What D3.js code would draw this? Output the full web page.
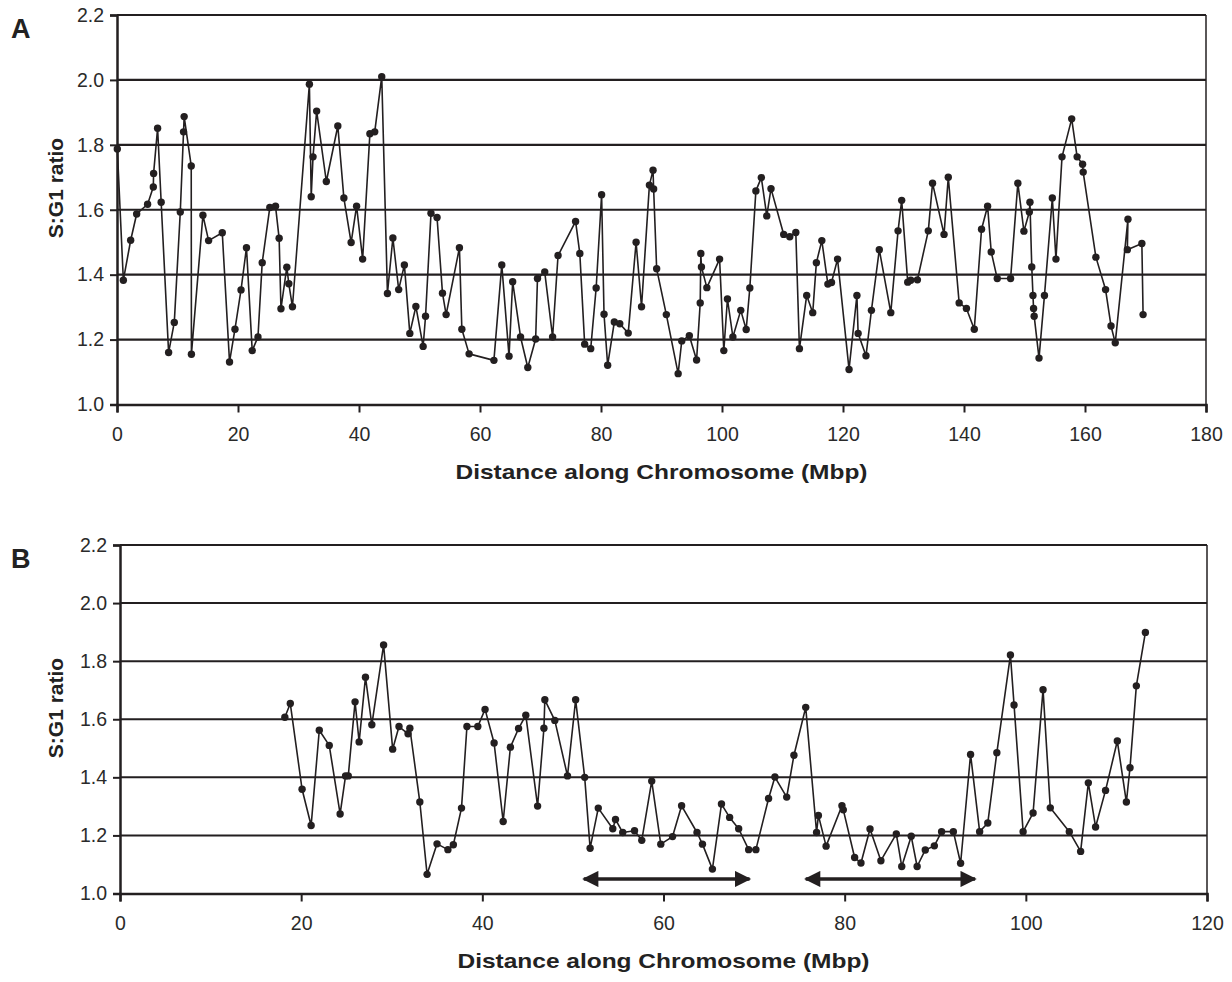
<!DOCTYPE html>
<html>
<head>
<meta charset="utf-8">
<script src="https://cdn.jsdelivr.net/npm/d3@7"></script>
<style>
  html, body { margin: 0; padding: 0; background: #fff; }
  svg { display: block; font-family: "Liberation Sans", Arial, sans-serif; }
</style>
</head>
<body>
<svg id="chart" width="1232" height="982"></svg>
<script>
// Panel A: whole chromosome, position (Mbp) and S:G1 ratio
const posA = [0.05,1.05,2.26,3.25,5.06,6.0,6.05,6.71,7.3,8.53,9.47,10.46,11.0,11.1,12.27,12.3,14.2,15.14,17.4,18.6,
  19.5,20.5,21.4,22.35,23.3,24.0,25.26,26.2,26.8,27.1,28.07,28.4,29.0,31.8,32.1,32.4,33.0,34.6,36.5,37.5,
  38.7,39.6,40.6,41.8,42.6,43.76,44.7,45.6,46.56,47.5,48.4,49.4,50.6,51.0,51.9,52.9,53.8,54.4,56.6,57.0,
  58.2,62.3,63.6,64.8,65.4,66.7,67.9,69.2,69.5,70.7,72.0,72.9,75.8,76.5,77.3,78.3,79.2,80.1,80.5,81.1,
  82.2,83.1,84.5,85.8,86.7,88.0,88.6,88.7,89.2,90.8,92.75,93.35,94.6,95.8,96.4,96.5,96.6,97.5,99.6,100.3,
  100.9,101.8,103.1,104.0,104.6,105.6,106.5,107.4,108.1,110.2,111.2,112.2,112.8,114.0,115.0,115.6,116.5,117.5,118.1,119.1,
  121.0,122.3,122.5,123.8,124.7,126.0,127.9,129.1,129.7,130.7,131.2,132.3,134.1,134.8,136.7,137.4,139.2,140.4,141.7,142.9,
  143.9,144.5,145.5,147.7,148.9,149.9,150.8,150.9,151.2,151.4,151.5,151.6,152.4,153.3,154.6,155.2,156.2,157.8,158.7,159.6,
  159.7,161.8,163.4,164.3,165.0,167.1,167.0,169.4,169.6];
const ratioA = [1.787,1.383,1.506,1.587,1.617,1.670,1.712,1.851,1.623,1.160,1.253,1.593,1.840,1.887,1.735,1.155,1.583,1.505,1.529,1.131,
  1.232,1.353,1.483,1.166,1.208,1.437,1.607,1.611,1.512,1.295,1.423,1.372,1.301,1.987,1.640,1.763,1.904,1.687,1.858,1.636,
  1.499,1.611,1.448,1.834,1.840,2.010,1.342,1.513,1.354,1.430,1.219,1.302,1.179,1.272,1.589,1.576,1.343,1.277,1.483,1.232,
  1.156,1.136,1.430,1.149,1.378,1.208,1.114,1.202,1.388,1.408,1.208,1.459,1.564,1.465,1.186,1.172,1.359,1.646,1.278,1.121,
  1.254,1.249,1.220,1.500,1.301,1.676,1.722,1.664,1.418,1.277,1.095,1.196,1.212,1.137,1.313,1.465,1.424,1.360,1.448,1.166,
  1.325,1.208,1.290,1.231,1.359,1.658,1.699,1.581,1.665,1.524,1.517,1.530,1.172,1.336,1.283,1.437,1.505,1.371,1.376,1.448,
  1.108,1.336,1.219,1.150,1.290,1.477,1.283,1.535,1.629,1.377,1.383,1.384,1.535,1.682,1.524,1.700,1.313,1.296,1.232,1.540,
  1.611,1.470,1.388,1.388,1.682,1.534,1.593,1.623,1.424,1.336,1.296,1.272,1.143,1.336,1.636,1.448,1.763,1.880,1.763,1.740,
  1.716,1.454,1.354,1.242,1.190,1.571,1.477,1.496,1.277];

// Panel B: chromosome region, position (Mbp) and S:G1 ratio
const posB = [18.2,18.8,20.1,21.1,22.0,23.1,24.3,24.9,25.2,25.95,26.4,27.1,27.8,29.1,30.1,30.8,31.8,32.0,33.1,33.9,
  35.0,36.2,36.8,37.7,38.3,39.5,40.3,41.3,42.3,43.1,44.0,44.8,46.1,46.8,46.9,48.0,49.4,50.3,51.3,51.9,
  52.8,54.4,54.7,55.5,56.8,57.6,58.7,59.7,61.0,62.0,63.7,64.3,65.4,66.4,67.3,68.3,69.4,70.2,71.6,72.3,
  73.6,74.4,75.7,76.9,77.1,77.95,79.7,79.85,81.1,81.8,82.8,84.0,85.7,86.3,87.35,88.0,88.9,89.9,90.7,92.0,
  92.8,93.9,94.9,95.8,96.8,98.3,98.7,99.7,100.8,101.9,102.7,104.8,106.05,106.9,107.7,108.8,110.1,111.1,111.5,112.2,
  113.2];
const ratioB = [1.607,1.654,1.359,1.234,1.562,1.510,1.274,1.405,1.405,1.660,1.522,1.745,1.581,1.856,1.497,1.575,1.550,1.569,1.315,1.066,
  1.171,1.151,1.168,1.294,1.575,1.575,1.634,1.518,1.248,1.504,1.568,1.614,1.301,1.569,1.667,1.596,1.405,1.667,1.400,1.156,
  1.294,1.223,1.255,1.210,1.216,1.183,1.387,1.170,1.196,1.302,1.210,1.170,1.084,1.308,1.262,1.223,1.151,1.151,1.327,1.401,
  1.332,1.476,1.641,1.210,1.269,1.163,1.302,1.288,1.124,1.105,1.222,1.113,1.205,1.093,1.197,1.093,1.150,1.164,1.213,1.213,
  1.104,1.479,1.213,1.243,1.485,1.821,1.649,1.213,1.277,1.702,1.295,1.213,1.145,1.381,1.229,1.355,1.525,1.315,1.433,1.715,
  1.899];

// Double-headed arrows marking the two low-ratio stretches in panel B
const arrowFrom = [51.2, 75.7];
const arrowTo   = [69.5, 94.4];
const arrowLevel = 1.05;

// Axis tick values
const yTicks = [1.0, 1.2, 1.4, 1.6, 1.8, 2.0, 2.2];
const xTicksA = [0, 20, 40, 60, 80, 100, 120, 140, 160, 180];
const xTicksB = [0, 20, 40, 60, 80, 100, 120];

const INK = "#231f20";
const svg = d3.select("#chart");

function drawPanel(opts) {
  const { label, pos, ratio, xMax, xTicks, left, right, top, bottom, gridW, yTitleY } = opts;
  const x = d3.scaleLinear().domain([0, xMax]).range([left, right]);
  const y = d3.scaleLinear().domain([1.0, 2.2]).range([bottom, top]);
  const g = svg.append("g");

  // horizontal gridlines
  g.append("g").selectAll("line").data(yTicks.slice(1)).join("line")
    .attr("x1", left).attr("x2", right)
    .attr("y1", d => y(d)).attr("y2", d => y(d))
    .attr("stroke", INK).attr("stroke-width", gridW);

  // right border
  g.append("line").attr("x1", right).attr("x2", right)
    .attr("y1", y(2.2)).attr("y2", y(1.0))
    .attr("stroke", INK).attr("stroke-width", 1.5);

  // y axis
  const yAxis = d3.axisLeft(y).tickValues(yTicks).tickFormat(d3.format(".1f"))
    .tickSize(7).tickPadding(6);
  const ya = g.append("g").attr("transform", `translate(${left},0)`).call(yAxis);
  ya.select(".domain").attr("stroke", INK).attr("stroke-width", 2.5);
  ya.selectAll(".tick line").attr("stroke", INK).attr("stroke-width", 2);
  ya.selectAll(".tick text").attr("fill", "#2a2a2a").style("font-size", "19.5px")
    .style("font-family", "Liberation Sans, Arial, sans-serif");

  // x axis
  const xAxis = d3.axisBottom(x).tickValues(xTicks).tickFormat(d3.format("d"))
    .tickSize(8).tickPadding(15);
  const xa = g.append("g").attr("transform", `translate(0,${bottom})`).call(xAxis);
  xa.select(".domain").attr("stroke", INK).attr("stroke-width", 2.5);
  xa.selectAll(".tick line").attr("stroke", INK).attr("stroke-width", 2);
  xa.selectAll(".tick text").attr("fill", "#2a2a2a").style("font-size", "19.5px")
    .style("font-family", "Liberation Sans, Arial, sans-serif");

  // data line and markers
  const pts = pos.map((p, i) => [p, ratio[i]]);
  g.append("path").datum(pts)
    .attr("d", d3.line().x(d => x(d[0])).y(d => y(d[1])))
    .attr("fill", "none").attr("stroke", INK).attr("stroke-width", 1.6)
    .attr("stroke-linejoin", "round");
  g.append("g").selectAll("circle").data(pts).join("circle")
    .attr("cx", d => x(d[0])).attr("cy", d => y(d[1])).attr("r", 3.7)
    .attr("fill", INK);

  // axis titles
  g.append("text")
    .attr("x", (left + right) / 2).attr("y", bottom + 74)
    .attr("text-anchor", "middle")
    .attr("textLength", 412).attr("lengthAdjust", "spacingAndGlyphs")
    .style("font-size", "21px").style("font-weight", "bold").attr("fill", "#222")
    .text("Distance along Chromosome (Mbp)");
  g.append("text")
    .attr("transform", `translate(63,${yTitleY}) rotate(-90)`)
    .attr("text-anchor", "middle")
    .style("font-size", "21px").style("font-weight", "bold").attr("fill", "#222")
    .text("S:G1 ratio");

  // panel letter
  g.append("text").attr("x", 11).attr("y", top + 23)
    .style("font-size", "27px").style("font-weight", "bold").attr("fill", "#222")
    .text(label);

  return { g, x, y };
}

drawPanel({ label: "A", pos: posA, ratio: ratioA, xMax: 180, xTicks: xTicksA,
  left: 117, right: 1206, top: 15, bottom: 404.5, gridW: 2.2, yTitleY: 188 });

const pB = drawPanel({ label: "B", pos: posB, ratio: ratioB, xMax: 120, xTicks: xTicksB,
  left: 120, right: 1207, top: 545, bottom: 893.5, gridW: 2, yTitleY: 708 });

// arrowheads
const defs = svg.append("defs");
defs.append("marker").attr("id", "head").attr("viewBox", "0 0 10 10")
  .attr("refX", 9).attr("refY", 5).attr("markerWidth", 5.5).attr("markerHeight", 4.5)
  .attr("markerUnits", "strokeWidth")
  .attr("orient", "auto-start-reverse")
  .append("path").attr("d", "M0,0 L10,5 L0,10 Z").attr("fill", INK);

pB.g.append("g").selectAll("line").data(arrowFrom).join("line")
  .attr("x1", d => pB.x(d)).attr("x2", (d, i) => pB.x(arrowTo[i]))
  .attr("y1", pB.y(arrowLevel)).attr("y2", pB.y(arrowLevel))
  .attr("stroke", INK).attr("stroke-width", 3.6)
  .attr("marker-start", "url(#head)").attr("marker-end", "url(#head)");
</script>
</body>
</html>
